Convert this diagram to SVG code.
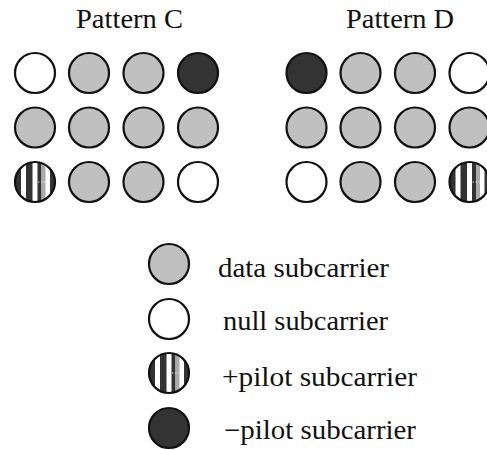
<svg xmlns="http://www.w3.org/2000/svg" xmlns:xlink="http://www.w3.org/1999/xlink" width="487" height="450" viewBox="0 0 487 450">
<style>
.c{stroke:#111;stroke-width:2.2}
.data{fill:#c0c0c0}
.null{fill:#fff}
.neg{fill:#333}
.t{font-family:"Liberation Serif","Times New Roman",serif;font-size:27px;fill:#111}
</style>
<defs>
<clipPath id="cc"><circle cx="0" cy="0" r="20"/></clipPath>
<g id="pilot">
<g clip-path="url(#cc)">
<rect x="-21" y="-21" width="42" height="42" fill="#fff"/>
<rect x="-21" y="-21" width="7" height="42" fill="#333"/>
<rect x="-9" y="-21" width="6.5" height="42" fill="#333"/>
<rect x="2.5" y="-21" width="4" height="42" fill="#333"/>
<rect x="6.5" y="-21" width="4" height="42" fill="#aaa"/>
<rect x="15" y="-21" width="6" height="42" fill="#333"/>
<line x1="0" y1="0" x2="10" y2="0" stroke="#fff" stroke-width="0.8" stroke-dasharray="1.5 1.5"/>
</g>
<circle cx="0" cy="0" r="20" fill="none" class="c"/>
</g>
</defs>
<g id="title-c"><text class="t" x="76" y="28" textLength="107" lengthAdjust="spacingAndGlyphs">Pattern C</text></g>
<g id="title-d"><text class="t" x="346" y="28" textLength="108" lengthAdjust="spacingAndGlyphs">Pattern D</text></g>
<g id="pattern-c">
<circle id="c11" class="c null" cx="35" cy="73" r="20"/>
<circle id="c12" class="c data" cx="89" cy="73" r="20"/>
<circle id="c13" class="c data" cx="143.5" cy="73" r="20"/>
<circle id="c14" class="c neg" cx="198" cy="73" r="20"/>
<circle id="c21" class="c data" cx="35" cy="127.5" r="20"/>
<circle id="c22" class="c data" cx="89" cy="127.5" r="20"/>
<circle id="c23" class="c data" cx="143.5" cy="127.5" r="20"/>
<circle id="c24" class="c data" cx="198" cy="127.5" r="20"/>
<use id="c31" xlink:href="#pilot" href="#pilot" x="35" y="182"/>
<circle id="c32" class="c data" cx="89" cy="182" r="20"/>
<circle id="c33" class="c data" cx="143.5" cy="182" r="20"/>
<circle id="c34" class="c null" cx="198" cy="182" r="20"/>
</g>
<g id="pattern-d">
<circle id="d11" class="c neg" cx="306.5" cy="73" r="20"/>
<circle id="d12" class="c data" cx="360.5" cy="73" r="20"/>
<circle id="d13" class="c data" cx="415" cy="73" r="20"/>
<circle id="d14" class="c null" cx="469.5" cy="73" r="20"/>
<circle id="d21" class="c data" cx="306.5" cy="127.5" r="20"/>
<circle id="d22" class="c data" cx="360.5" cy="127.5" r="20"/>
<circle id="d23" class="c data" cx="415" cy="127.5" r="20"/>
<circle id="d24" class="c data" cx="469.5" cy="127.5" r="20"/>
<circle id="d31" class="c null" cx="306.5" cy="182" r="20"/>
<circle id="d32" class="c data" cx="360.5" cy="182" r="20"/>
<circle id="d33" class="c data" cx="415" cy="182" r="20"/>
<use id="d34" xlink:href="#pilot" href="#pilot" x="469.5" y="182"/>
</g>
<g id="legend-data">
<circle class="c data" cx="169" cy="264" r="20"/>
<text class="t" x="218" y="277" textLength="171" lengthAdjust="spacingAndGlyphs">data subcarrier</text>
</g>
<g id="legend-null">
<circle class="c null" cx="169" cy="319" r="20"/>
<text class="t" x="223" y="330" textLength="165" lengthAdjust="spacingAndGlyphs">null subcarrier</text>
</g>
<g id="legend-pos">
<use xlink:href="#pilot" href="#pilot" x="169" y="373"/>
<text class="t" x="222" y="386" textLength="195" lengthAdjust="spacingAndGlyphs">+pilot subcarrier</text>
</g>
<g id="legend-neg">
<circle class="c neg" cx="169" cy="428" r="20"/>
<text class="t" x="224" y="439" textLength="192" lengthAdjust="spacingAndGlyphs">−pilot subcarrier</text>
</g>
</svg>
